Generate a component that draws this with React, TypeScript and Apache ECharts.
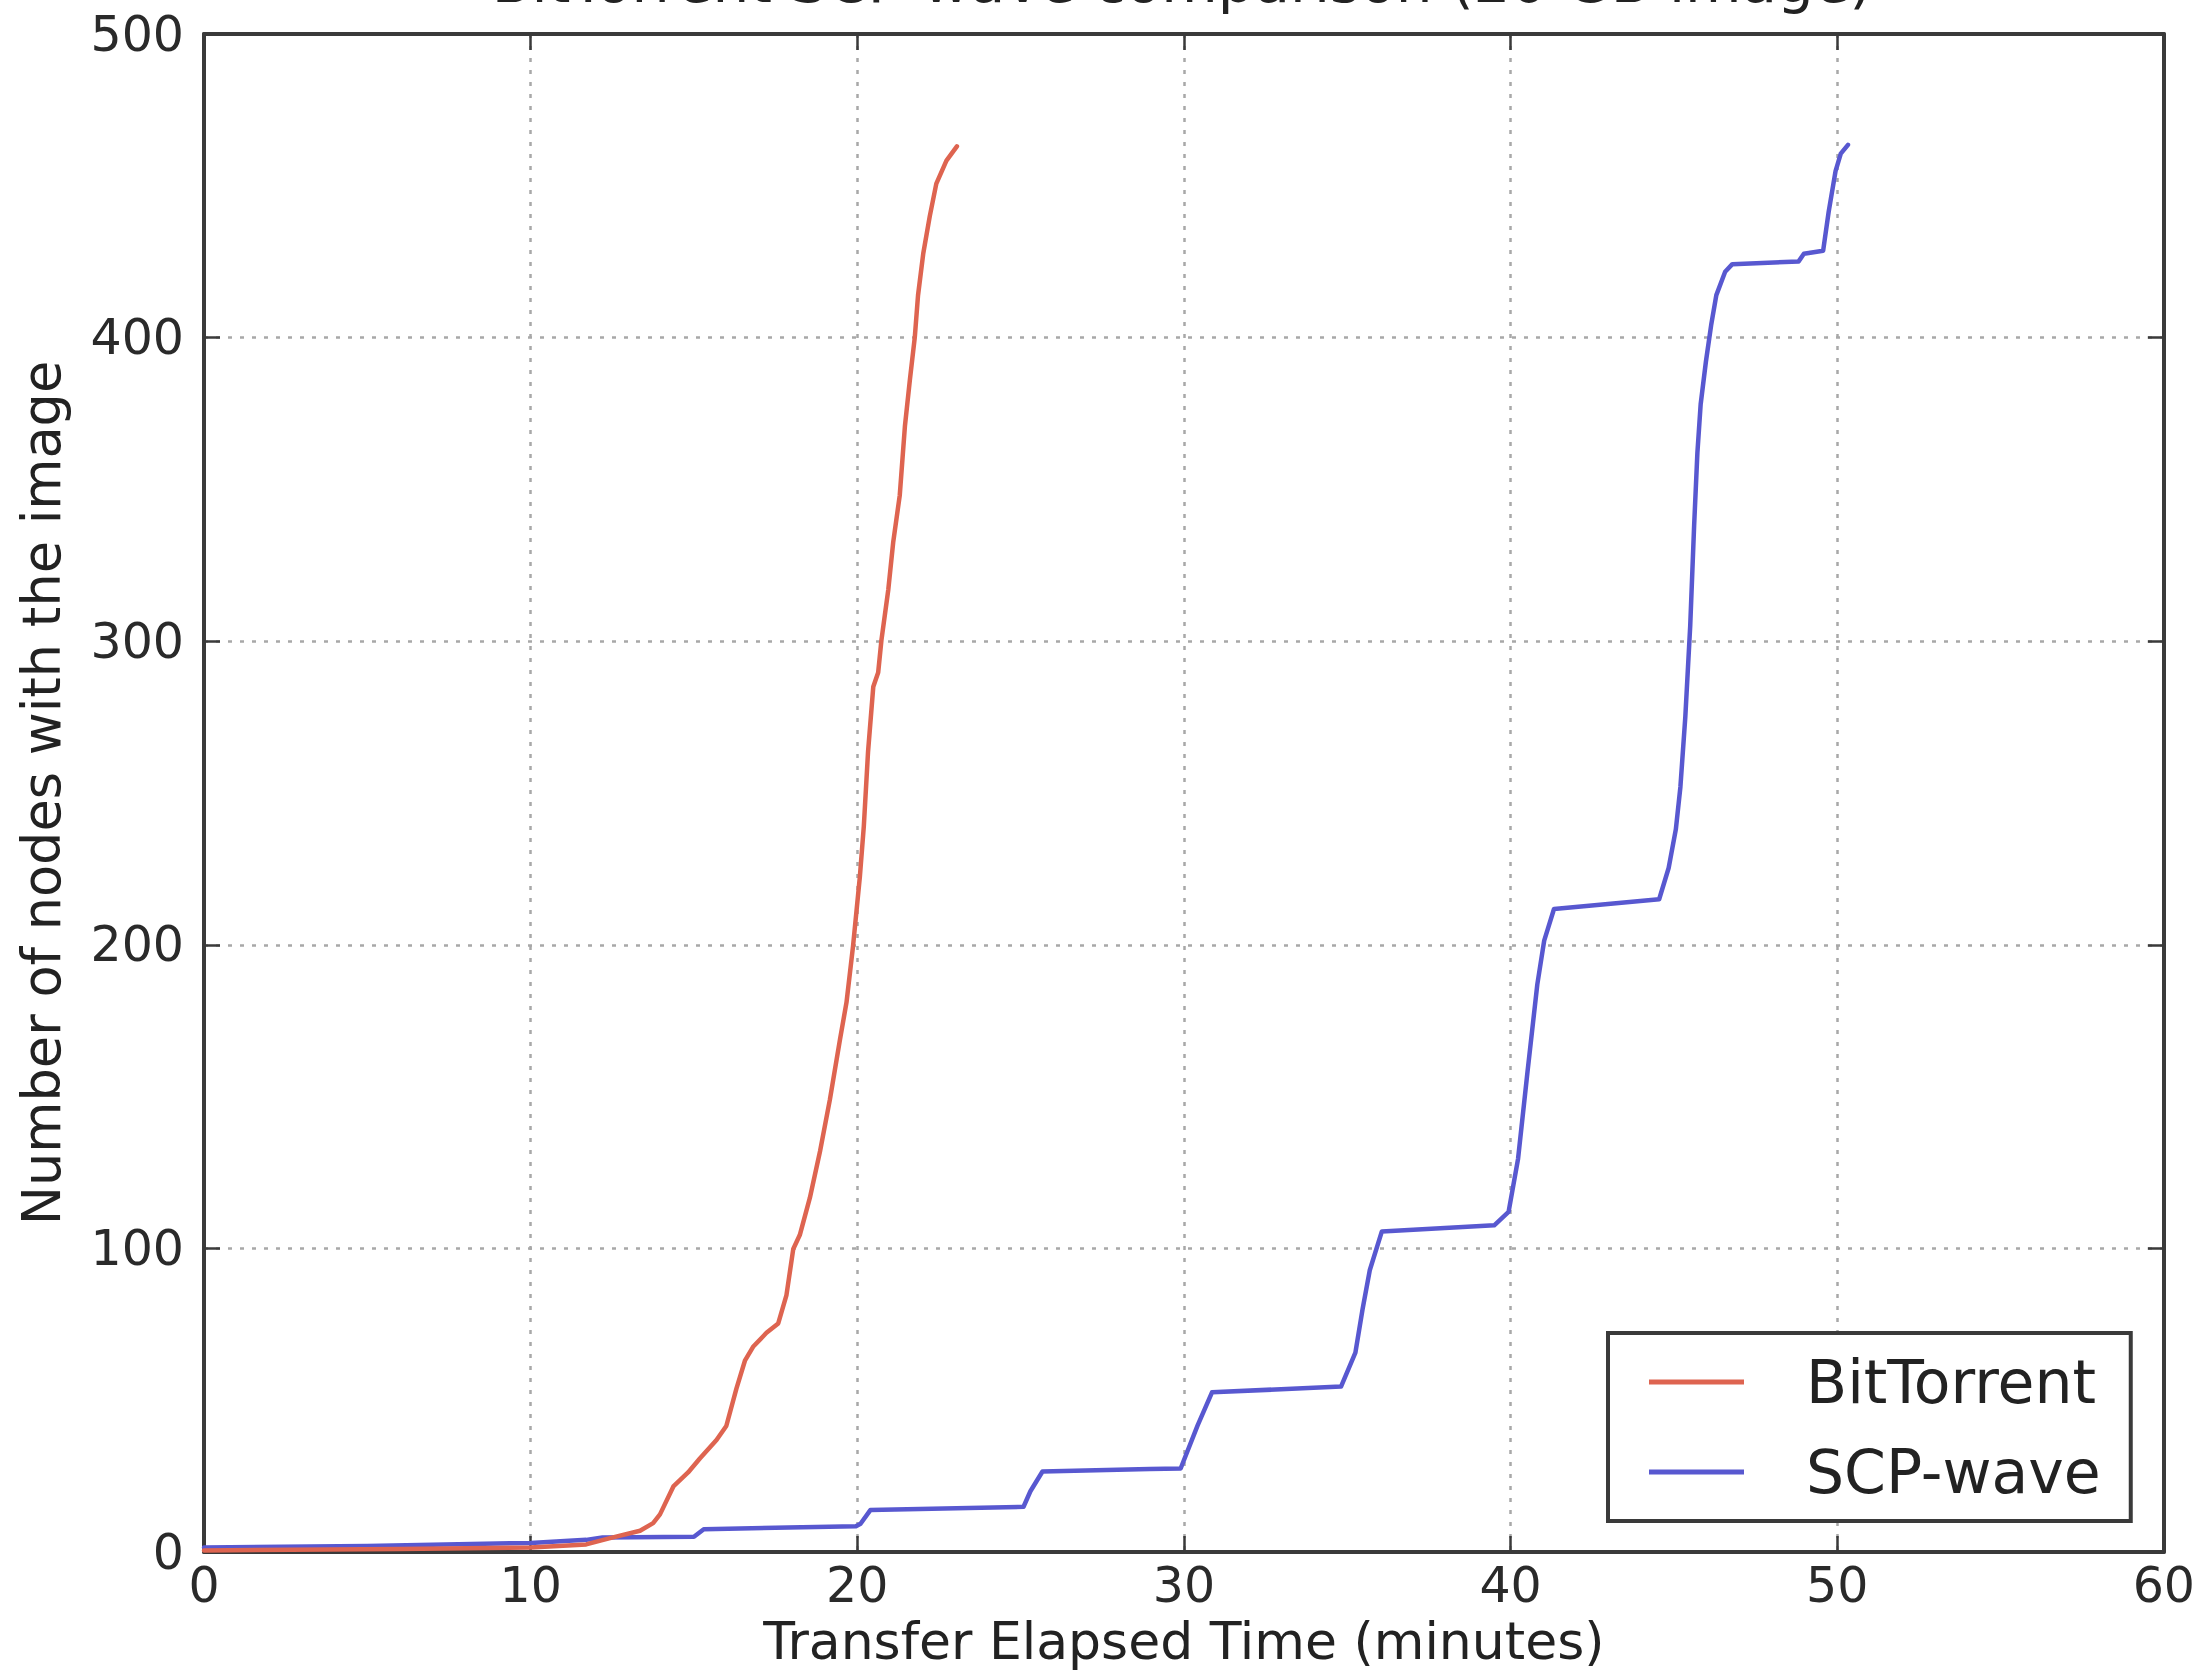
import React, { useEffect, useRef } from "react";
import * as echarts from "echarts";

const titleText = "BitTorrent SCP-wave comparison (20 GB image)";
const xAxisName = "Transfer Elapsed Time (minutes)";
const yAxisName = "Number of nodes with the image";
const seriesNames = ["BitTorrent", "SCP-wave"];

const btTime = [0, 6, 10, 11.7, 12.4, 13.35, 13.75, 13.96, 14.37, 14.82, 15.18, 15.69, 15.99, 16.3, 16.56, 16.81, 17.22, 17.58, 17.83, 18.04, 18.24, 18.55, 18.86, 19.16, 19.47, 19.67, 19.87, 20.08, 20.2, 20.33, 20.49, 20.64, 20.74, 20.95, 21.1, 21.3, 21.46, 21.61, 21.76, 21.86, 22.02, 22.22, 22.42, 22.73, 23.05];
const btNodes = [0.5, 1, 1.5, 2.5, 4.5, 7, 9.5, 12.4, 21.6, 26.2, 30.8, 36.9, 41.5, 53.8, 63, 67.6, 72.2, 75.3, 84.5, 99.8, 104.4, 116.7, 132, 148.9, 168.8, 181, 199.5, 222.5, 239, 263.6, 285, 289.7, 300.4, 317, 332.6, 348, 371, 386, 400, 413.9, 427.7, 440, 450.7, 458.3, 463];

const scpTime = [0, 5, 10, 11.7, 12.2, 15.0, 15.3, 19.96, 20.1, 20.4, 25.09, 25.3, 25.67, 28.95, 29.9, 30.42, 30.86, 34.81, 35.25, 35.47, 35.69, 36.06, 39.5, 39.94, 40.23, 40.52, 40.82, 41.03, 41.33, 44.55, 44.84, 45.06, 45.2, 45.35, 45.5, 45.62, 45.72, 45.82, 45.98, 46.14, 46.3, 46.57, 46.79, 48.82, 48.98, 49.57, 49.74, 49.95, 50.11, 50.33];
const scpNodes = [1.5, 2, 3, 4, 4.8, 5, 7.5, 8.5, 9.3, 13.8, 14.9, 20, 26.5, 27.3, 27.5, 41.7, 52.6, 54.5, 65.7, 80, 92.8, 105.6, 107.6, 112, 129.5, 158.3, 187, 201.4, 211.8, 215, 225.3, 238, 252, 275, 305, 338, 362, 378, 392, 404, 414, 421.7, 424.2, 425.1, 427.6, 428.6, 441.5, 454.8, 460.6, 463.5];

const xMin = 0, xMax = 60, xStep = 10;
const yMin = 0, yMax = 500, yStep = 100;

const FONT = "DejaVu Sans";
const frameColor = "#3a3a3a";

function zip(a: number[], b: number[]) {
  return a.map((v, i) => [v, b[i]]);
}

export default function App() {
  const ref = useRef<HTMLDivElement>(null);
  useEffect(() => {
    if (!ref.current) return;
    const chart = echarts.init(ref.current, undefined, { renderer: "svg" });
    const axisCommon = {
      type: "value",
      axisLine: { show: true, onZero: false, lineStyle: { color: frameColor, width: 4 } },
      axisTick: { show: true, inside: true, length: 16, lineStyle: { color: frameColor, width: 2.5 } },
    };
    const option: any = {
      animation: false,
      backgroundColor: "#ffffff",
      textStyle: { fontFamily: FONT },
      grid: { left: 204, top: 34, right: 34, bottom: 120, containLabel: false },
      graphic: [
        {
          type: "text",
          x: 1182,
          y: -18,
          style: {
            text: titleText,
            fontFamily: FONT,
            fontSize: 58,
            fill: "#222",
            textAlign: "center",
            textVerticalAlign: "middle",
          },
        },
      ],
      legend: {
        left: 1608,
        top: 1333,
        orient: "vertical",
        padding: [14, 30, 14, 41],
        itemGap: 20,
        itemWidth: 95,
        itemHeight: 5,
        icon: "rect",
        borderColor: frameColor,
        borderWidth: 4,
        borderRadius: 0,
        backgroundColor: "#ffffff",
        textStyle: { fontFamily: FONT, fontSize: 60, color: "#222", lineHeight: 70, padding: [0, 0, 0, 57] },
        data: seriesNames,
      },
      xAxis: [
        {
          ...axisCommon,
          position: "bottom",
          min: xMin,
          max: xMax,
          interval: xStep,
          name: xAxisName,
          nameLocation: "middle",
          nameGap: 63,
          nameTextStyle: { fontFamily: FONT, fontSize: 52, color: "#222" },
          axisLabel: { fontFamily: FONT, fontSize: 49, color: "#2a2a2a", margin: 9 },
          splitLine: { show: true, lineStyle: { type: [4, 8], color: "#a8a8a8", width: 2.5 } },
        },
        {
          ...axisCommon,
          position: "top",
          min: xMin,
          max: xMax,
          interval: xStep,
          axisLabel: { show: false },
          splitLine: { show: false },
        },
      ],
      yAxis: [
        {
          ...axisCommon,
          position: "left",
          min: yMin,
          max: yMax,
          interval: yStep,
          name: yAxisName,
          nameLocation: "middle",
          nameGap: 136,
          nameTextStyle: { fontFamily: FONT, fontSize: 52.5, color: "#222" },
          axisLabel: { fontFamily: FONT, fontSize: 49, color: "#2a2a2a", margin: 20 },
          splitLine: { show: true, lineStyle: { type: [4, 8], color: "#a8a8a8", width: 2.5 } },
        },
        {
          ...axisCommon,
          position: "right",
          min: yMin,
          max: yMax,
          interval: yStep,
          axisLabel: { show: false },
          splitLine: { show: false },
        },
      ],
      series: [
        {
          name: seriesNames[0],
          type: "line",
          xAxisIndex: 0,
          yAxisIndex: 0,
          showSymbol: false,
          symbol: "none",
          color: "#de6450",
          lineStyle: { color: "#de6450", width: 4.5, join: "round", cap: "round" },
          data: zip(btTime, btNodes),
          z: 3,
        },
        {
          name: seriesNames[1],
          type: "line",
          xAxisIndex: 0,
          yAxisIndex: 0,
          showSymbol: false,
          symbol: "none",
          color: "#5858d0",
          lineStyle: { color: "#5858d0", width: 4.5, join: "round", cap: "round" },
          data: zip(scpTime, scpNodes),
          z: 2,
        },
      ],
    };
    chart.setOption(option);
    return () => chart.dispose();
  }, []);
  return (
    <div
      ref={ref}
      style={{ position: "fixed", left: 0, top: 0, width: 2198, height: 1672, background: "#fff" }}
    />
  );
}
